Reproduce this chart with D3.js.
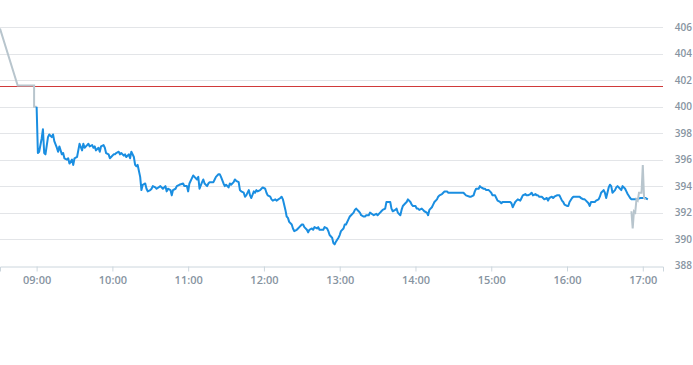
<!DOCTYPE html>
<html>
<head>
<meta charset="utf-8">
<script src="https://cdn.jsdelivr.net/npm/d3@7"></script>
<style>
  body { margin: 0; background: #fff; }
  .axis text { font-family: "Open Sans", sans-serif; font-size: 11px; font-weight: 600; fill: #8794a1; }
  .axis.price text { font-size: 10px; }
</style>
</head>
<body>
<div id="chart"></div>
<script>
// pre-market quotes (grey)
var preMarket = [["08:31", 405.9], ["08:45", 401.6], ["08:58", 401.6], ["08:58", 400.0], ["09:00", 400.0]];

// after-hours quotes (grey)
var afterHours = [["16:51", 392.1], ["16:52", 390.8], ["16:53", 392.1], ["16:54", 392.0], ["16:55", 393.0],
  ["16:56", 392.9], ["16:57", 393.5], ["16:59", 393.5], ["17:00", 395.6], ["17:01", 393.1], ["17:02", 393.0]];

var prevClose = 401.6;

var priceTicks = [388, 390, 392, 394, 396, 398, 400, 402, 404, 406];
var hourTicks = ["09:00", "10:00", "11:00", "12:00", "13:00", "14:00", "15:00", "16:00", "17:00"];

// main session (blue)
var session = [
  ["09:00",400.0],["09:01",396.5],["09:02",396.6],["09:04",397.6],["09:05",398.3],["09:06",396.5],["09:07",396.4],
  ["09:09",397.7],["09:10",397.9],["09:12",397.7],["09:13",397.9],["09:14",397.4],["09:16",396.9],["09:17",396.6],
  ["09:18",397.0],["09:20",396.4],["09:21",396.5],["09:22",396.1],["09:24",396.0],["09:25",396.1],["09:26",395.7],
  ["09:28",396.0],["09:29",395.6],["09:30",396.1],["09:32",396.2],["09:33",396.7],["09:34",397.2],["09:36",396.7],
  ["09:37",397.2],["09:38",396.9],["09:40",397.1],["09:41",397.2],["09:42",397.0],["09:44",397.1],["09:45",396.9],
  ["09:46",397.0],["09:47",396.7],["09:49",396.9],["09:50",396.6],["09:51",397.0],["09:53",397.1],["09:54",396.9],
  ["09:55",396.5],["09:57",396.4],["09:58",396.1],["09:59",396.2],["10:01",396.4],["10:02",396.4],["10:03",396.5],
  ["10:05",396.6],["10:06",396.4],["10:07",396.5],["10:09",396.3],["10:10",396.4],["10:11",396.2],["10:13",396.4],
  ["10:14",396.1],["10:15",396.6],["10:17",396.2],["10:18",395.6],["10:19",395.5],["10:20",395.6],["10:22",394.7],
  ["10:23",393.7],["10:24",394.1],["10:26",394.2],["10:27",393.8],["10:28",393.6],["10:30",393.7],["10:31",393.8],
  ["10:32",394.0],["10:34",393.9],["10:35",393.8],["10:38",394.0],["10:40",393.8],["10:42",394.0],["10:43",393.6],
  ["10:44",393.8],["10:46",393.7],["10:47",393.3],["10:48",393.7],["10:50",393.8],["10:51",394.0],["10:53",394.1],
  ["10:56",394.2],["10:57",394.0],["10:59",394.0],["11:00",393.6],["11:01",394.2],["11:03",394.6],["11:04",394.8],
  ["11:05",394.7],["11:07",394.5],["11:08",394.7],["11:09",393.8],["11:11",394.3],["11:12",394.5],["11:13",394.2],
  ["11:15",394.0],["11:16",394.2],["11:17",394.3],["11:19",394.3],["11:20",394.3],["11:21",394.5],["11:22",394.7],
  ["11:24",394.9],["11:25",394.9],["11:26",394.7],["11:28",394.2],["11:29",394.0],["11:30",394.1],["11:32",393.9],
  ["11:33",394.2],["11:34",394.1],["11:36",394.3],["11:37",394.5],["11:38",394.4],["11:40",394.3],["11:41",393.7],
  ["11:42",393.6],["11:44",393.5],["11:45",393.2],["11:46",393.3],["11:48",393.7],["11:49",393.3],["11:50",393.1],
  ["11:52",393.6],["11:53",393.5],["11:54",393.7],["11:55",393.6],["11:57",393.7],["11:58",393.8],["11:59",393.9],
  ["12:01",393.8],["12:02",393.5],["12:03",393.3],["12:05",393.2],["12:06",393.0],["12:07",392.9],["12:09",393.0],
  ["12:10",392.9],["12:13",393.1],["12:14",393.2],["12:15",393.0],["12:17",392.2],["12:18",391.7],["12:19",391.6],
  ["12:20",391.3],["12:22",391.1],["12:23",390.8],["12:24",390.6],["12:26",390.7],["12:27",390.8],["12:28",390.9],
  ["12:30",391.1],["12:31",391.1],["12:32",390.9],["12:34",390.7],["12:35",390.5],["12:36",390.7],["12:38",390.8],
  ["12:39",390.7],["12:40",390.9],["12:42",390.8],["12:43",390.9],["12:44",390.7],["12:46",390.7],["12:47",390.7],
  ["12:48",390.9],["12:50",390.8],["12:51",390.6],["12:52",390.3],["12:54",390.1],["12:55",389.7],["12:56",389.6],
  ["12:57",389.8],["12:59",390.1],["13:00",390.3],["13:01",390.6],["13:03",390.8],["13:04",391.1],["13:05",391.1],
  ["13:07",391.5],["13:08",391.7],["13:09",391.8],["13:11",392.0],["13:12",392.2],["13:13",392.3],["13:15",392.1],
  ["13:16",392.0],["13:17",391.8],["13:19",391.7],["13:20",391.7],["13:21",391.8],["13:23",391.8],["13:24",392.0],
  ["13:27",391.8],["13:29",391.9],["13:30",391.8],["13:32",392.0],["13:33",392.1],["13:34",392.2],["13:36",392.3],
  ["13:37",392.8],["13:38",392.8],["13:40",392.8],["13:41",392.3],["13:42",392.1],["13:44",392.2],["13:45",392.3],
  ["13:46",392.0],["13:48",391.8],["13:49",392.2],["13:50",392.5],["13:52",392.7],["13:53",392.8],["13:54",393.0],
  ["13:56",392.8],["13:57",392.6],["13:58",392.5],["14:00",392.5],["14:01",392.3],["14:02",392.3],["14:03",392.2],
  ["14:05",392.3],["14:06",392.2],["14:07",392.1],["14:09",392.0],["14:10",391.8],["14:11",392.2],["14:13",392.4],
  ["14:14",392.6],["14:15",392.8],["14:17",393.0],["14:18",393.2],["14:19",393.3],["14:21",393.4],["14:22",393.5],
  ["14:23",393.6],["14:25",393.6],["14:26",393.5],["14:27",393.5],["14:29",393.5],["14:30",393.5],["14:33",393.5],
  ["14:35",393.5],["14:38",393.5],["14:40",393.3],["14:43",393.2],["14:44",393.2],["14:46",393.3],["14:47",393.6],
  ["14:48",393.8],["14:50",393.8],["14:51",394.0],["14:52",393.9],["14:54",393.8],["14:55",393.8],["14:56",393.7],
  ["14:58",393.7],["14:59",393.6],["15:00",393.5],["15:01",393.3],["15:03",393.3],["15:04",393.1],["15:05",392.9],
  ["15:07",392.8],["15:08",392.7],["15:09",392.8],["15:11",392.8],["15:12",392.8],["15:13",392.8],["15:15",392.8],
  ["15:16",392.7],["15:17",392.4],["15:18",392.6],["15:19",392.8],["15:20",392.9],["15:21",393.0],["15:23",392.9],
  ["15:24",393.1],["15:25",393.3],["15:27",393.4],["15:28",393.3],["15:29",393.3],["15:31",393.4],["15:32",393.5],
  ["15:33",393.3],["15:35",393.4],["15:36",393.3],["15:37",393.3],["15:38",393.2],["15:40",393.2],["15:41",393.1],
  ["15:42",393.0],["15:44",393.1],["15:45",392.9],["15:46",393.1],["15:48",393.2],["15:49",393.1],["15:50",393.2],
  ["15:52",393.3],["15:53",393.3],["15:54",393.3],["15:56",392.9],["15:57",392.8],["15:58",392.6],["16:00",392.5],
  ["16:01",392.5],["16:02",392.8],["16:04",393.1],["16:05",393.2],["16:06",393.2],["16:07",393.2],["16:09",393.2],
  ["16:10",393.2],["16:11",393.1],["16:13",393.0],["16:14",393.0],["16:15",392.9],["16:17",392.7],["16:18",392.5],
  ["16:19",392.8],["16:21",392.8],["16:22",392.8],["16:23",392.9],["16:25",393.0],["16:26",393.2],["16:27",393.5],
  ["16:29",393.7],["16:30",393.5],["16:31",393.1],["16:33",393.9],["16:34",394.1],["16:35",394.0],["16:36",393.5],
  ["16:38",393.7],["16:39",393.9],["16:40",394.0],["16:42",393.8],["16:43",393.7],["16:44",394.0],["16:46",393.8],
  ["16:47",393.6],["16:48",393.4],["16:50",393.1],["16:51",393.0],["16:52",393.0],["16:55",393.0],["16:58",393.1],
  ["17:02",393.1],["17:04",393.0]
];

var parseTime = d3.timeParse("%H:%M");
var width = 693, height = 365;
var plotRight = 663, plotBottom = 265.5;

var svg = d3.select("#chart").append("svg")
    .attr("width", width)
    .attr("height", height);

var x = d3.scaleTime()
    .domain([parseTime("08:31"), parseTime("17:16")])
    .range([0, plotRight]);

var y = d3.scaleLinear()
    .domain([388, 406])
    .range([plotBottom, 27.3]);

// horizontal grid lines
svg.append("g").selectAll("line")
    .data(priceTicks.slice(1))
    .enter()
    .append("line")
    .attr("x1", 0)
    .attr("x2", plotRight)
    .attr("y1", function(d) { return Math.round(y(d)) + 0.5; })
    .attr("y2", function(d) { return Math.round(y(d)) + 0.5; })
    .attr("stroke", "#e3e5e8")
    .attr("stroke-width", 1);

// bottom time axis
var xAxis = d3.axisBottom(x)
    .tickValues(hourTicks.map(parseTime))
    .tickFormat(d3.timeFormat("%H:%M"))
    .tickSizeOuter(0)
    .tickSize(5)
    .tickPadding(5);
var gx = svg.append("g")
    .attr("class", "axis")
    .attr("transform", "translate(0," + (Math.round(plotBottom) + 0.5) + ")")
    .call(xAxis);
gx.select(".domain").attr("stroke", "#ccd6dd");
gx.selectAll(".tick line").attr("stroke", "#ccd6dd");

// right price axis, labels right-aligned to the page edge
var yAxis = d3.axisRight(y)
    .tickValues(priceTicks)
    .tickSize(0)
    .tickPadding(0);
var gy = svg.append("g")
    .attr("class", "axis price")
    .attr("transform", "translate(" + (width - 1) + ",0)")
    .call(yAxis);
gy.select(".domain").remove();
gy.selectAll("text").attr("text-anchor", "end");

// previous close
svg.append("line")
    .attr("x1", 0)
    .attr("x2", plotRight)
    .attr("y1", Math.round(y(prevClose)) + 0.5)
    .attr("y2", Math.round(y(prevClose)) + 0.5)
    .attr("stroke", "#d03a3a")
    .attr("stroke-width", 1);

var line = d3.line()
    .x(function(d) { return x(parseTime(d[0])); })
    .y(function(d) { return y(d[1]); });

svg.append("path")
    .datum(preMarket)
    .attr("d", line)
    .attr("fill", "none")
    .attr("stroke", "#b8c5cd")
    .attr("stroke-width", 2);

svg.append("path")
    .datum(session)
    .attr("d", line)
    .attr("fill", "none")
    .attr("stroke", "#1a8ee1")
    .attr("stroke-width", 2)
    .attr("stroke-linejoin", "round");

svg.append("path")
    .datum(afterHours)
    .attr("d", line)
    .attr("fill", "none")
    .attr("stroke", "#b8c5cd")
    .attr("stroke-width", 2);
</script>
</body>
</html>
